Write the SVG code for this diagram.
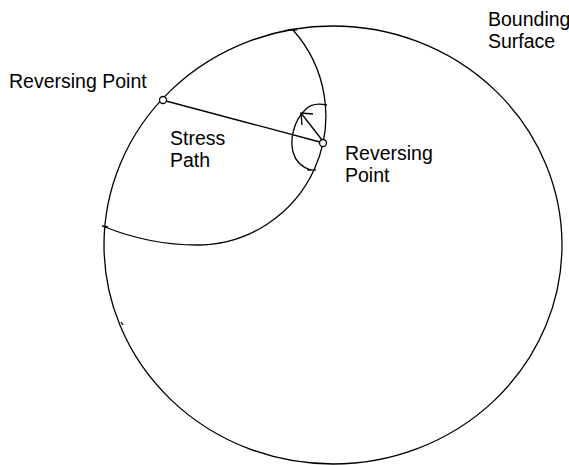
<svg xmlns="http://www.w3.org/2000/svg" width="569" height="465" viewBox="0 0 569 465">
<style>
.ln{fill:none;stroke:#000;stroke-width:1.3}
.pt{fill:#fff;stroke:#000;stroke-width:1.3}
.tx{font-family:"Liberation Sans",Arial,sans-serif;font-size:19.5px;fill:#000}
</style>
<rect width="569" height="465" fill="#fff"/>
<g id="bounding-surface">
<ellipse class="ln" cx="333" cy="245" rx="229" ry="219"/>
<line class="ln" x1="121" y1="322" x2="123" y2="325"/>
<text class="tx" x="488" y="26">Bounding</text>
<text class="tx" x="488" y="48">Surface</text>
</g>
<g id="loading-surface">
<path class="ln" d="M293,30 A129,129 0 0 1 197,245 Q150,245 105,227"/>
<line class="ln" x1="288" y1="30" x2="297" y2="30"/>
<line class="ln" x1="102" y1="226" x2="108" y2="227"/>
</g>
<g id="small-surface">
<path class="ln" d="M327,105 C318,103 310,104 305,110 C293,122 290,140 293,152 C296,163 304,168 311,170"/>
<line class="ln" x1="307" y1="170" x2="316" y2="170"/>
</g>
<g id="connectors">
<line class="ln" x1="166" y1="101" x2="320" y2="142"/>
<line class="ln" x1="322" y1="140" x2="301" y2="113"/>
<path class="ln" d="M313,114 L301,113 L302,125"/>
</g>
<g id="reversing-point-1">
<circle class="pt" cx="163" cy="100" r="3.5"/>
<text class="tx" x="9" y="88">Reversing Point</text>
</g>
<g id="reversing-point-2">
<circle class="pt" cx="323" cy="143" r="3.5"/>
<text class="tx" x="345" y="160">Reversing</text>
<text class="tx" x="345" y="182">Point</text>
</g>
<g id="stress-path-label">
<text class="tx" x="170" y="145">Stress</text>
<text class="tx" x="170" y="167">Path</text>
</g>
</svg>
